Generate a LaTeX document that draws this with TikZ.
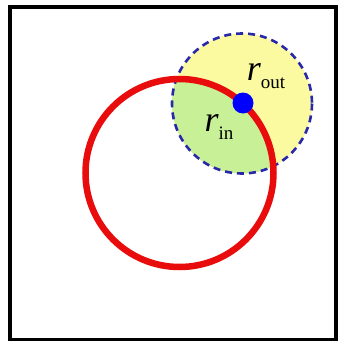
\documentclass[tikz,border=0pt]{standalone}
\usepackage{fontspec}
\setmainfont{Liberation Serif}
\usetikzlibrary{positioning}
\definecolor{ringred}{RGB}{232,12,12}
\definecolor{zoneyellow}{RGB}{252,250,160}
\definecolor{zonegreen}{RGB}{200,240,150}
\definecolor{dashblue}{RGB}{40,40,170}
\newcommand{\radsub}[1]{\raisebox{-0.45ex}{\fontsize{19}{19}\selectfont #1}}
\tikzset{
  frame/.style={draw=black, line width=3.2pt},
  ring/.style={draw=ringred, line width=6.5pt},
  reach/.style={draw=dashblue, line width=2.6pt, dash pattern=on 7pt off 5pt},
  agent/.style={circle, fill=blue, inner sep=0pt, minimum size=21pt},
  radlabel/.style={inner sep=0pt, font=\fontsize{36}{38}\selectfont}
}
\begin{document}
\begin{tikzpicture}[x=1pt,y=-1pt]
  \useasboundingbox (0,0) rectangle (339,343);
  \fill[white] (0,0) rectangle (339,343);
  \coordinate (ringc) at (179.5,173);
  \coordinate (reachc) at (242,103.5);

  % zones of the dashed disc
  \fill[zoneyellow] (reachc) circle (70);
  \begin{scope}
    \clip (ringc) circle (94);
    \fill[zonegreen] (reachc) circle (70);
  \end{scope}

  \draw[reach] (reachc) circle (70);
  \draw[ring] (ringc) circle (94);
  \node[agent] (dot) at (243,103) {};

  \node[radlabel] (rout) at (266,76) {\textit{r}\radsub{out}};
  \node[radlabel] (rin) at (219,127) {\textit{r}\radsub{in}};

  \draw[frame] (10,7) rectangle (336,339.5);
\end{tikzpicture}
\end{document}
